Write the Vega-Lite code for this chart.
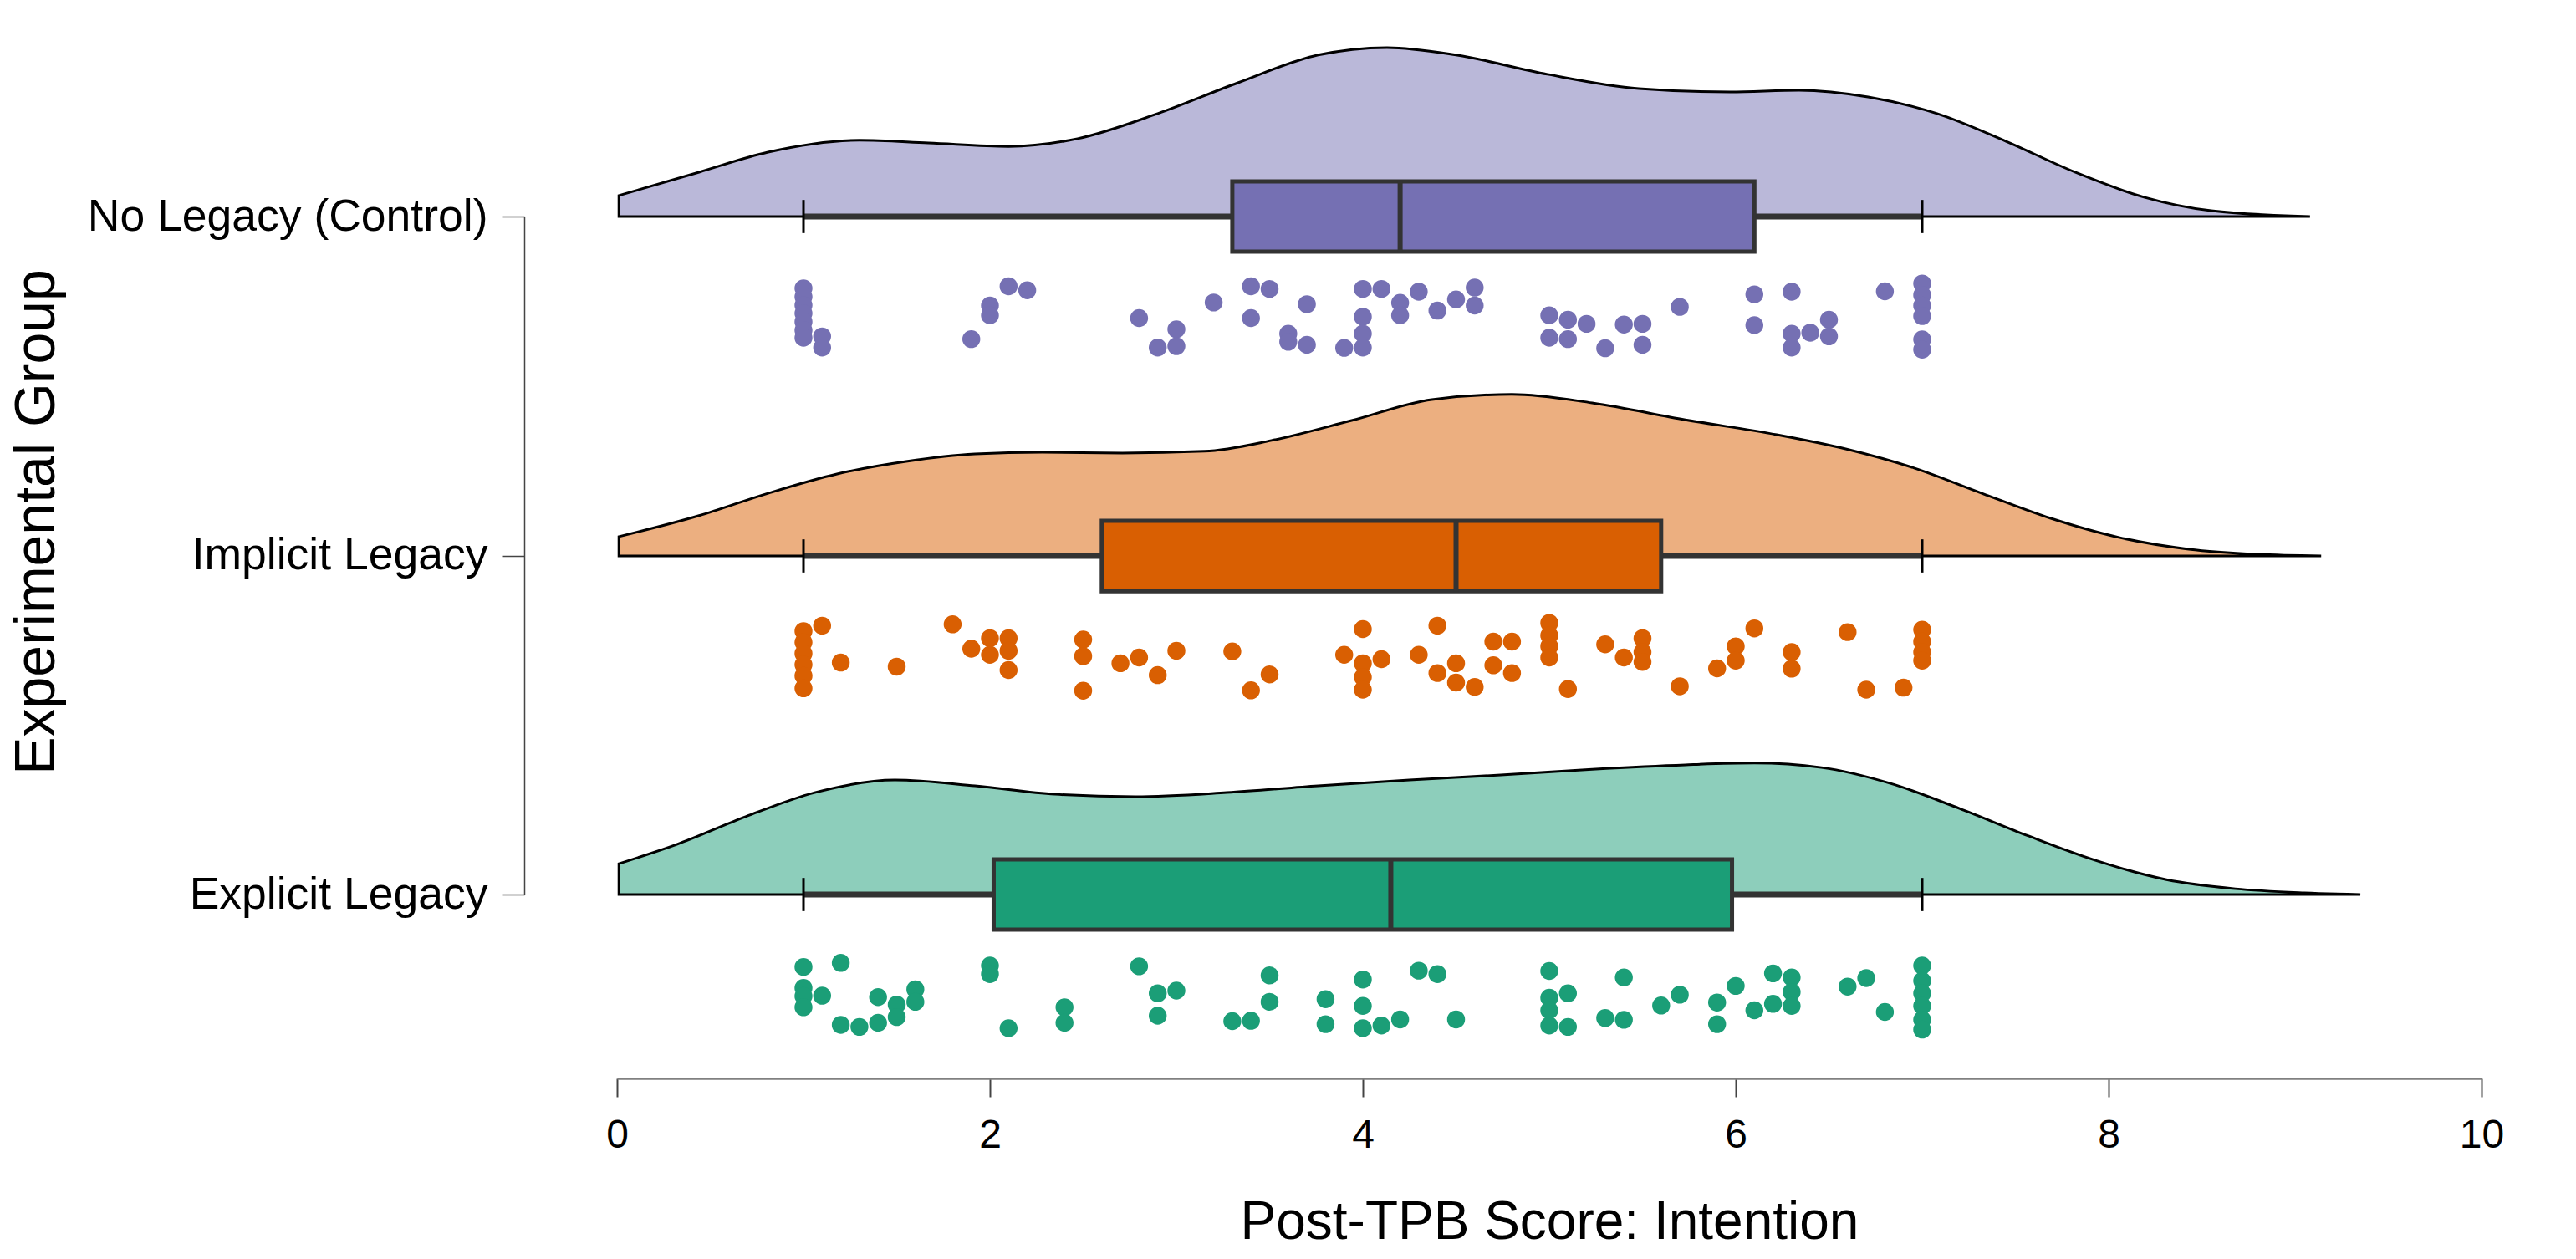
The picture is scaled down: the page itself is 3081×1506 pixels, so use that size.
{
  "$schema": "https://vega.github.io/schema/vega-lite/v6.json",
  "autosize": {"type": "none"},
  "padding": {"left": 738, "top": 0, "right": 113, "bottom": 216},
  "width": 2230,
  "height": 1290,
  "background": "white",
  "config": {
    "view": {"stroke": null},
    "font": "Liberation Sans",
    "axis": {"labelColor": "#000", "titleColor": "#000", "grid": false, "titleFontWeight": "normal"}
  },
  "datasets": {
    "dens": [
      {"g":"N","x":0.01,"d":0.062},{"g":"N","x":0.44,"d":0.131},{"g":"N","x":0.81,"d":0.19},{"g":"N","x":1.3,"d":0.225},{"g":"N","x":1.67,"d":0.217},{"g":"N","x":2.1,"d":0.207},{"g":"N","x":2.47,"d":0.23},{"g":"N","x":2.9,"d":0.304},{"g":"N","x":3.33,"d":0.395},{"g":"N","x":3.76,"d":0.477},{"g":"N","x":4.13,"d":0.499},{"g":"N","x":4.5,"d":0.477},{"g":"N","x":4.99,"d":0.42},{"g":"N","x":5.48,"d":0.378},{"g":"N","x":5.97,"d":0.368},{"g":"N","x":6.34,"d":0.373},{"g":"N","x":6.71,"d":0.353},{"g":"N","x":7.08,"d":0.304},{"g":"N","x":7.45,"d":0.222},{"g":"N","x":7.82,"d":0.131},{"g":"N","x":8.19,"d":0.057},{"g":"N","x":8.55,"d":0.017},{"g":"N","x":9.08,"d":0.0},
      {"g":"I","x":0.01,"d":0.057},{"g":"I","x":0.44,"d":0.119},{"g":"I","x":0.81,"d":0.185},{"g":"I","x":1.18,"d":0.242},{"g":"I","x":1.55,"d":0.279},{"g":"I","x":1.92,"d":0.301},{"g":"I","x":2.28,"d":0.306},{"g":"I","x":2.71,"d":0.304},{"g":"I","x":3.15,"d":0.309},{"g":"I","x":3.51,"d":0.341},{"g":"I","x":3.94,"d":0.4},{"g":"I","x":4.37,"d":0.462},{"g":"I","x":4.8,"d":0.477},{"g":"I","x":5.23,"d":0.452},{"g":"I","x":5.73,"d":0.402},{"g":"I","x":6.22,"d":0.358},{"g":"I","x":6.59,"d":0.316},{"g":"I","x":6.96,"d":0.259},{"g":"I","x":7.32,"d":0.185},{"g":"I","x":7.69,"d":0.111},{"g":"I","x":8.06,"d":0.054},{"g":"I","x":8.43,"d":0.02},{"g":"I","x":8.8,"d":0.005},{"g":"I","x":9.14,"d":0.0},
      {"g":"E","x":0.01,"d":0.091},{"g":"E","x":0.32,"d":0.148},{"g":"E","x":0.69,"d":0.23},{"g":"E","x":1.06,"d":0.301},{"g":"E","x":1.49,"d":0.338},{"g":"E","x":1.92,"d":0.321},{"g":"E","x":2.35,"d":0.296},{"g":"E","x":2.78,"d":0.289},{"g":"E","x":3.27,"d":0.301},{"g":"E","x":3.76,"d":0.321},{"g":"E","x":4.25,"d":0.338},{"g":"E","x":4.74,"d":0.353},{"g":"E","x":5.23,"d":0.37},{"g":"E","x":5.73,"d":0.383},{"g":"E","x":6.1,"d":0.388},{"g":"E","x":6.46,"d":0.375},{"g":"E","x":6.83,"d":0.328},{"g":"E","x":7.2,"d":0.254},{"g":"E","x":7.57,"d":0.173},{"g":"E","x":7.94,"d":0.099},{"g":"E","x":8.31,"d":0.044},{"g":"E","x":8.68,"d":0.017},{"g":"E","x":9.05,"d":0.005},{"g":"E","x":9.35,"d":0.0}
    ],
    "box": [
      {"g":"N","lo":1,"q1":3.3,"med":4.2,"q3":6.1,"hi":7},
      {"g":"I","lo":1,"q1":2.6,"med":4.5,"q3":5.6,"hi":7},
      {"g":"E","lo":1,"q1":2.02,"med":4.15,"q3":5.98,"hi":7}
    ],
    "pts": [
      {"g":"N","s":1.0,"j":-0.212},{"g":"N","s":1.0,"j":-0.237},{"g":"N","s":1.0,"j":-0.262},{"g":"N","s":1.0,"j":-0.286},{"g":"N","s":1.0,"j":-0.311},{"g":"N","s":1.0,"j":-0.336},{"g":"N","s":1.0,"j":-0.358},
      {"g":"N","s":1.1,"j":-0.354},{"g":"N","s":1.1,"j":-0.387},{"g":"N","s":1.9,"j":-0.362},{"g":"N","s":2.0,"j":-0.263},{"g":"N","s":2.0,"j":-0.292},{"g":"N","s":2.1,"j":-0.206},{"g":"N","s":2.2,"j":-0.218},
      {"g":"N","s":2.8,"j":-0.3},{"g":"N","s":2.9,"j":-0.387},{"g":"N","s":3.0,"j":-0.333},{"g":"N","s":3.0,"j":-0.383},{"g":"N","s":3.2,"j":-0.254},{"g":"N","s":3.4,"j":-0.206},{"g":"N","s":3.4,"j":-0.3},
      {"g":"N","s":3.5,"j":-0.214},{"g":"N","s":3.6,"j":-0.346},{"g":"N","s":3.6,"j":-0.37},{"g":"N","s":3.7,"j":-0.259},{"g":"N","s":3.7,"j":-0.379},{"g":"N","s":3.9,"j":-0.388},
      {"g":"N","s":4.0,"j":-0.214},{"g":"N","s":4.0,"j":-0.296},{"g":"N","s":4.0,"j":-0.346},{"g":"N","s":4.0,"j":-0.387},{"g":"N","s":4.1,"j":-0.214},{"g":"N","s":4.2,"j":-0.255},{"g":"N","s":4.2,"j":-0.292},
      {"g":"N","s":4.3,"j":-0.222},{"g":"N","s":4.4,"j":-0.278},{"g":"N","s":4.5,"j":-0.245},{"g":"N","s":4.6,"j":-0.21},{"g":"N","s":4.6,"j":-0.263},
      {"g":"N","s":5.0,"j":-0.292},{"g":"N","s":5.0,"j":-0.358},{"g":"N","s":5.1,"j":-0.305},{"g":"N","s":5.1,"j":-0.362},{"g":"N","s":5.2,"j":-0.317},{"g":"N","s":5.3,"j":-0.389},{"g":"N","s":5.4,"j":-0.319},
      {"g":"N","s":5.5,"j":-0.317},{"g":"N","s":5.5,"j":-0.379},{"g":"N","s":5.7,"j":-0.267},{"g":"N","s":6.1,"j":-0.23},{"g":"N","s":6.1,"j":-0.321},{"g":"N","s":6.3,"j":-0.222},{"g":"N","s":6.3,"j":-0.346},{"g":"N","s":6.3,"j":-0.387},
      {"g":"N","s":6.4,"j":-0.343},{"g":"N","s":6.5,"j":-0.305},{"g":"N","s":6.5,"j":-0.354},{"g":"N","s":6.8,"j":-0.221},
      {"g":"N","s":7.0,"j":-0.198},{"g":"N","s":7.0,"j":-0.232},{"g":"N","s":7.0,"j":-0.263},{"g":"N","s":7.0,"j":-0.294},{"g":"N","s":7.0,"j":-0.363},{"g":"N","s":7.0,"j":-0.393},

      {"g":"I","s":1.0,"j":-0.222},{"g":"I","s":1.0,"j":-0.255},{"g":"I","s":1.0,"j":-0.288},{"g":"I","s":1.0,"j":-0.321},{"g":"I","s":1.0,"j":-0.354},{"g":"I","s":1.0,"j":-0.391},
      {"g":"I","s":1.1,"j":-0.206},{"g":"I","s":1.2,"j":-0.315},{"g":"I","s":1.5,"j":-0.327},{"g":"I","s":1.8,"j":-0.202},{"g":"I","s":1.9,"j":-0.274},{"g":"I","s":2.0,"j":-0.243},{"g":"I","s":2.0,"j":-0.292},
      {"g":"I","s":2.1,"j":-0.243},{"g":"I","s":2.1,"j":-0.28},{"g":"I","s":2.1,"j":-0.337},{"g":"I","s":2.5,"j":-0.247},{"g":"I","s":2.5,"j":-0.296},{"g":"I","s":2.5,"j":-0.398},
      {"g":"I","s":2.7,"j":-0.317},{"g":"I","s":2.8,"j":-0.3},{"g":"I","s":2.9,"j":-0.352},{"g":"I","s":3.0,"j":-0.28},{"g":"I","s":3.3,"j":-0.282},{"g":"I","s":3.4,"j":-0.397},{"g":"I","s":3.5,"j":-0.35},
      {"g":"I","s":3.9,"j":-0.292},{"g":"I","s":4.0,"j":-0.216},{"g":"I","s":4.0,"j":-0.317},{"g":"I","s":4.0,"j":-0.358},{"g":"I","s":4.0,"j":-0.395},{"g":"I","s":4.1,"j":-0.305},{"g":"I","s":4.3,"j":-0.292},
      {"g":"I","s":4.4,"j":-0.206},{"g":"I","s":4.4,"j":-0.346},{"g":"I","s":4.5,"j":-0.317},{"g":"I","s":4.5,"j":-0.374},{"g":"I","s":4.6,"j":-0.387},{"g":"I","s":4.7,"j":-0.253},{"g":"I","s":4.7,"j":-0.323},
      {"g":"I","s":4.8,"j":-0.253},{"g":"I","s":4.8,"j":-0.346},{"g":"I","s":5.0,"j":-0.198},{"g":"I","s":5.0,"j":-0.235},{"g":"I","s":5.0,"j":-0.267},{"g":"I","s":5.0,"j":-0.3},{"g":"I","s":5.1,"j":-0.393},
      {"g":"I","s":5.3,"j":-0.261},{"g":"I","s":5.4,"j":-0.3},{"g":"I","s":5.5,"j":-0.243},{"g":"I","s":5.5,"j":-0.284},{"g":"I","s":5.5,"j":-0.313},{"g":"I","s":5.7,"j":-0.385},{"g":"I","s":5.9,"j":-0.332},
      {"g":"I","s":6.0,"j":-0.267},{"g":"I","s":6.0,"j":-0.309},{"g":"I","s":6.1,"j":-0.214},{"g":"I","s":6.3,"j":-0.284},{"g":"I","s":6.3,"j":-0.333},{"g":"I","s":6.6,"j":-0.225},{"g":"I","s":6.7,"j":-0.395},
      {"g":"I","s":6.9,"j":-0.389},{"g":"I","s":7.0,"j":-0.218},{"g":"I","s":7.0,"j":-0.253},{"g":"I","s":7.0,"j":-0.284},{"g":"I","s":7.0,"j":-0.309},

      {"g":"E","s":1.0,"j":-0.214},{"g":"E","s":1.0,"j":-0.276},{"g":"E","s":1.0,"j":-0.3},{"g":"E","s":1.0,"j":-0.333},{"g":"E","s":1.1,"j":-0.299},{"g":"E","s":1.2,"j":-0.202},{"g":"E","s":1.2,"j":-0.385},
      {"g":"E","s":1.3,"j":-0.391},{"g":"E","s":1.4,"j":-0.303},{"g":"E","s":1.4,"j":-0.379},{"g":"E","s":1.5,"j":-0.325},{"g":"E","s":1.5,"j":-0.362},{"g":"E","s":1.6,"j":-0.28},{"g":"E","s":1.6,"j":-0.317},
      {"g":"E","s":2.0,"j":-0.21},{"g":"E","s":2.0,"j":-0.235},{"g":"E","s":2.1,"j":-0.395},{"g":"E","s":2.4,"j":-0.333},{"g":"E","s":2.4,"j":-0.379},{"g":"E","s":2.8,"j":-0.212},{"g":"E","s":2.9,"j":-0.292},
      {"g":"E","s":2.9,"j":-0.358},{"g":"E","s":3.0,"j":-0.284},{"g":"E","s":3.3,"j":-0.374},{"g":"E","s":3.4,"j":-0.373},{"g":"E","s":3.5,"j":-0.239},{"g":"E","s":3.5,"j":-0.317},{"g":"E","s":3.8,"j":-0.309},
      {"g":"E","s":3.8,"j":-0.383},{"g":"E","s":4.0,"j":-0.251},{"g":"E","s":4.0,"j":-0.329},{"g":"E","s":4.0,"j":-0.395},{"g":"E","s":4.1,"j":-0.387},{"g":"E","s":4.2,"j":-0.369},{"g":"E","s":4.3,"j":-0.225},
      {"g":"E","s":4.4,"j":-0.235},{"g":"E","s":4.5,"j":-0.369},{"g":"E","s":5.0,"j":-0.226},{"g":"E","s":5.0,"j":-0.305},{"g":"E","s":5.0,"j":-0.342},{"g":"E","s":5.0,"j":-0.387},{"g":"E","s":5.1,"j":-0.292},
      {"g":"E","s":5.1,"j":-0.391},{"g":"E","s":5.3,"j":-0.365},{"g":"E","s":5.4,"j":-0.245},{"g":"E","s":5.4,"j":-0.37},{"g":"E","s":5.6,"j":-0.328},{"g":"E","s":5.7,"j":-0.296},{"g":"E","s":5.9,"j":-0.319},
      {"g":"E","s":5.9,"j":-0.383},{"g":"E","s":6.0,"j":-0.27},{"g":"E","s":6.1,"j":-0.342},{"g":"E","s":6.2,"j":-0.233},{"g":"E","s":6.2,"j":-0.323},{"g":"E","s":6.3,"j":-0.245},{"g":"E","s":6.3,"j":-0.288},
      {"g":"E","s":6.3,"j":-0.329},{"g":"E","s":6.6,"j":-0.272},{"g":"E","s":6.7,"j":-0.247},{"g":"E","s":6.8,"j":-0.347},
      {"g":"E","s":7.0,"j":-0.21},{"g":"E","s":7.0,"j":-0.255},{"g":"E","s":7.0,"j":-0.292},{"g":"E","s":7.0,"j":-0.329},{"g":"E","s":7.0,"j":-0.37},{"g":"E","s":7.0,"j":-0.399}
    ]
  },
  "layer": [
    {
      "layer": [
        {"data": {"name": "dens"}, "transform": [{"filter": "datum.g === 'N'"}],
         "mark": {"type": "area", "interpolate": "monotone", "fill": "#bab8d9", "stroke": "#000", "strokeWidth": 3},
         "encoding": {"x": {"field": "x", "type": "quantitative", "scale": {"domain": [0, 10], "nice": false, "zero": false}, "title": "Post-TPB Score: Intention",
                            "axis": {"values": [0, 2, 4, 6, 8, 10], "format": "d", "labelFlush": false, "tickSize": 22, "tickColor": "#444", "tickWidth": 2,
                                     "domainColor": "#808080", "domainWidth": 2.5, "labelFontSize": 48, "labelPadding": 22, "labelColor": "#000",
                                     "titleFontSize": 64, "titleFontWeight": "normal", "titlePadding": 48, "titleColor": "#000", "grid": false}},
                      "y": {"field": "d", "type": "quantitative", "scale": {"domain": [-2.5457, 0.6395], "nice": false, "zero": false}, "axis": null},
                      "y2": {"datum": 0}}},
        {"data": {"name": "box"}, "transform": [{"filter": "datum.g === 'N'"}],
         "mark": {"type": "rule", "color": "#333", "strokeWidth": 7},
         "encoding": {"x": {"field": "lo", "type": "quantitative", "title": "Post-TPB Score: Intention"}, "x2": {"field": "hi"}, "y": {"datum": 0, "type": "quantitative", "axis": null}}},
        {"data": {"name": "box"}, "transform": [{"filter": "datum.g === 'N'"}],
         "mark": {"type": "rect", "fill": "#7570b3", "stroke": "#333", "strokeWidth": 5},
         "encoding": {"x": {"field": "q1", "type": "quantitative", "title": "Post-TPB Score: Intention"}, "x2": {"field": "q3"}, "y": {"datum": 0.104, "type": "quantitative", "axis": null}, "y2": {"datum": -0.104}}},
        {"data": {"name": "box"}, "transform": [{"filter": "datum.g === 'N'"}],
         "mark": {"type": "rule", "color": "#333", "strokeWidth": 6},
         "encoding": {"x": {"field": "med", "type": "quantitative", "title": "Post-TPB Score: Intention"}, "y": {"datum": 0.104, "type": "quantitative", "axis": null}, "y2": {"datum": -0.104}}},
        {"data": {"name": "box"}, "transform": [{"filter": "datum.g === 'N'"}],
         "mark": {"type": "rule", "color": "#000", "strokeWidth": 3},
         "encoding": {"x": {"field": "lo", "type": "quantitative", "title": "Post-TPB Score: Intention"}, "y": {"datum": 0.049, "type": "quantitative", "axis": null}, "y2": {"datum": -0.049}}},
        {"data": {"name": "box"}, "transform": [{"filter": "datum.g === 'N'"}],
         "mark": {"type": "rule", "color": "#000", "strokeWidth": 3},
         "encoding": {"x": {"field": "hi", "type": "quantitative", "title": "Post-TPB Score: Intention"}, "y": {"datum": 0.049, "type": "quantitative", "axis": null}, "y2": {"datum": -0.049}}},
        {"data": {"name": "pts"}, "transform": [{"filter": "datum.g === 'N'"}],
         "mark": {"type": "circle", "size": 460, "color": "#7570b3", "opacity": 1},
         "encoding": {"x": {"field": "s", "type": "quantitative", "title": "Post-TPB Score: Intention"}, "y": {"field": "j", "type": "quantitative", "axis": null}}}
      ]
    },
    {
      "layer": [
        {"data": {"name": "dens"}, "transform": [{"filter": "datum.g === 'I'"}],
         "mark": {"type": "area", "interpolate": "monotone", "fill": "#ecaf80", "stroke": "#000", "strokeWidth": 3},
         "encoding": {"x": {"field": "x", "type": "quantitative", "title": "Post-TPB Score: Intention"},
                      "y": {"field": "d", "type": "quantitative", "scale": {"domain": [-1.5432, 1.642], "nice": false, "zero": false}, "axis": null},
                      "y2": {"datum": 0}}},
        {"data": {"name": "box"}, "transform": [{"filter": "datum.g === 'I'"}],
         "mark": {"type": "rule", "color": "#333", "strokeWidth": 7},
         "encoding": {"x": {"field": "lo", "type": "quantitative", "title": "Post-TPB Score: Intention"}, "x2": {"field": "hi"}, "y": {"datum": 0, "type": "quantitative", "axis": null}}},
        {"data": {"name": "box"}, "transform": [{"filter": "datum.g === 'I'"}],
         "mark": {"type": "rect", "fill": "#d95f02", "stroke": "#333", "strokeWidth": 5},
         "encoding": {"x": {"field": "q1", "type": "quantitative", "title": "Post-TPB Score: Intention"}, "x2": {"field": "q3"}, "y": {"datum": 0.104, "type": "quantitative", "axis": null}, "y2": {"datum": -0.104}}},
        {"data": {"name": "box"}, "transform": [{"filter": "datum.g === 'I'"}],
         "mark": {"type": "rule", "color": "#333", "strokeWidth": 6},
         "encoding": {"x": {"field": "med", "type": "quantitative", "title": "Post-TPB Score: Intention"}, "y": {"datum": 0.104, "type": "quantitative", "axis": null}, "y2": {"datum": -0.104}}},
        {"data": {"name": "box"}, "transform": [{"filter": "datum.g === 'I'"}],
         "mark": {"type": "rule", "color": "#000", "strokeWidth": 3},
         "encoding": {"x": {"field": "lo", "type": "quantitative", "title": "Post-TPB Score: Intention"}, "y": {"datum": 0.049, "type": "quantitative", "axis": null}, "y2": {"datum": -0.049}}},
        {"data": {"name": "box"}, "transform": [{"filter": "datum.g === 'I'"}],
         "mark": {"type": "rule", "color": "#000", "strokeWidth": 3},
         "encoding": {"x": {"field": "hi", "type": "quantitative", "title": "Post-TPB Score: Intention"}, "y": {"datum": 0.049, "type": "quantitative", "axis": null}, "y2": {"datum": -0.049}}},
        {"data": {"name": "pts"}, "transform": [{"filter": "datum.g === 'I'"}],
         "mark": {"type": "circle", "size": 460, "color": "#d95f02", "opacity": 1},
         "encoding": {"x": {"field": "s", "type": "quantitative", "title": "Post-TPB Score: Intention"}, "y": {"field": "j", "type": "quantitative", "axis": null}}}
      ]
    },
    {
      "layer": [
        {"data": {"name": "dens"}, "transform": [{"filter": "datum.g === 'E'"}],
         "mark": {"type": "area", "interpolate": "monotone", "fill": "#8dcebb", "stroke": "#000", "strokeWidth": 3},
         "encoding": {"x": {"field": "x", "type": "quantitative", "title": "Post-TPB Score: Intention"},
                      "y": {"field": "d", "type": "quantitative", "scale": {"domain": [-0.5432, 2.642], "nice": false, "zero": false}, "axis": null},
                      "y2": {"datum": 0}}},
        {"data": {"name": "box"}, "transform": [{"filter": "datum.g === 'E'"}],
         "mark": {"type": "rule", "color": "#333", "strokeWidth": 7},
         "encoding": {"x": {"field": "lo", "type": "quantitative", "title": "Post-TPB Score: Intention"}, "x2": {"field": "hi"}, "y": {"datum": 0, "type": "quantitative", "axis": null}}},
        {"data": {"name": "box"}, "transform": [{"filter": "datum.g === 'E'"}],
         "mark": {"type": "rect", "fill": "#1b9e77", "stroke": "#333", "strokeWidth": 5},
         "encoding": {"x": {"field": "q1", "type": "quantitative", "title": "Post-TPB Score: Intention"}, "x2": {"field": "q3"}, "y": {"datum": 0.104, "type": "quantitative", "axis": null}, "y2": {"datum": -0.104}}},
        {"data": {"name": "box"}, "transform": [{"filter": "datum.g === 'E'"}],
         "mark": {"type": "rule", "color": "#333", "strokeWidth": 6},
         "encoding": {"x": {"field": "med", "type": "quantitative", "title": "Post-TPB Score: Intention"}, "y": {"datum": 0.104, "type": "quantitative", "axis": null}, "y2": {"datum": -0.104}}},
        {"data": {"name": "box"}, "transform": [{"filter": "datum.g === 'E'"}],
         "mark": {"type": "rule", "color": "#000", "strokeWidth": 3},
         "encoding": {"x": {"field": "lo", "type": "quantitative", "title": "Post-TPB Score: Intention"}, "y": {"datum": 0.049, "type": "quantitative", "axis": null}, "y2": {"datum": -0.049}}},
        {"data": {"name": "box"}, "transform": [{"filter": "datum.g === 'E'"}],
         "mark": {"type": "rule", "color": "#000", "strokeWidth": 3},
         "encoding": {"x": {"field": "hi", "type": "quantitative", "title": "Post-TPB Score: Intention"}, "y": {"datum": 0.049, "type": "quantitative", "axis": null}, "y2": {"datum": -0.049}}},
        {"data": {"name": "pts"}, "transform": [{"filter": "datum.g === 'E'"}],
         "mark": {"type": "circle", "size": 460, "color": "#1b9e77", "opacity": 1},
         "encoding": {"x": {"field": "s", "type": "quantitative", "title": "Post-TPB Score: Intention"}, "y": {"field": "j", "type": "quantitative", "axis": null}}}
      ]
    },
    {
      "data": {"values": [{"grp": "No Legacy (Control)"}, {"grp": "Implicit Legacy"}, {"grp": "Explicit Legacy"}]},
      "mark": {"type": "point", "opacity": 0},
      "encoding": {
        "x": {"datum": 5, "type": "quantitative", "title": "Post-TPB Score: Intention"},
        "y": {"field": "grp", "type": "nominal",
              "scale": {"type": "point", "domain": ["No Legacy (Control)", "Implicit Legacy", "Explicit Legacy"], "range": [259, 1070], "padding": 0},
              "axis": {"orient": "left", "offset": 111, "tickSize": 26, "tickColor": "#444", "tickWidth": 1.5, "domainColor": "#444", "domainWidth": 1.5,
                       "labelFontSize": 53.5, "labelPadding": 18, "labelLimit": 0, "labelColor": "#000",
                       "title": "Experimental Group", "titleFontSize": 68, "titleFontWeight": "normal", "titleColor": "#000", "titlePadding": 349, "titleY": 624}}
      }
    }
  ],
  "resolve": {"scale": {"y": "independent"}}
}
